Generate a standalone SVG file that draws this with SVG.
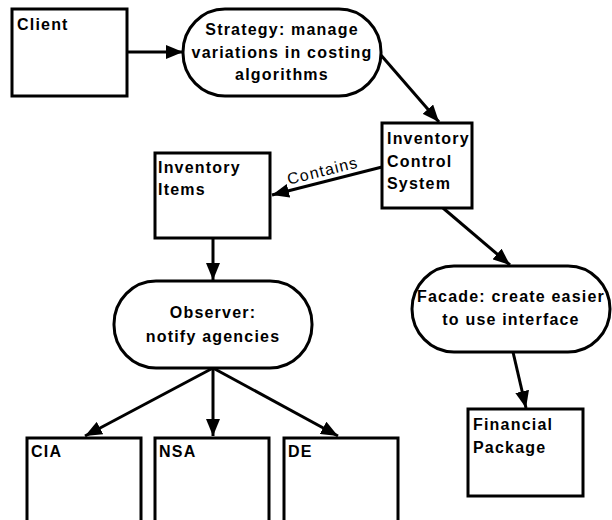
<svg xmlns="http://www.w3.org/2000/svg" width="612" height="520" viewBox="0 0 612 520">
<style>
.box{fill:#fff;stroke:#000;stroke-width:3}
.lbl{font-family:"Liberation Sans",Arial,sans-serif;font-size:16px;font-weight:bold;letter-spacing:1.2px;fill:#000}
.c{text-anchor:middle}
.edge{stroke:#000;stroke-width:3;fill:none;marker-end:url(#ah)}
.elbl{font-family:"Liberation Sans",Arial,sans-serif;font-size:16px;letter-spacing:1.2px;fill:#000}
</style>
<defs>
<marker id="ah" markerUnits="userSpaceOnUse" markerWidth="18" markerHeight="14" refX="17" refY="7" orient="auto">
<path d="M0,0 L17,7 L0,14 Z" fill="#000"/>
</marker>
</defs>
<rect width="612" height="520" fill="#fff"/>
<g id="edges">
<line class="edge" x1="127" y1="52" x2="183" y2="52"/>
<line class="edge" x1="380" y1="54" x2="439" y2="122"/>
<line class="edge" x1="382" y1="167" x2="272" y2="195"/>
<line class="edge" x1="213" y1="238" x2="213" y2="280"/>
<line class="edge" x1="213" y1="368" x2="85" y2="436"/>
<line class="edge" x1="213" y1="368" x2="213" y2="436"/>
<line class="edge" x1="213" y1="368" x2="338" y2="436"/>
<line class="edge" x1="443" y1="208" x2="510" y2="265"/>
<line class="edge" x1="513" y1="352" x2="526" y2="408"/>
<text class="elbl" transform="translate(324 176) rotate(-14)" text-anchor="middle">Contains</text>
</g>
<g id="client">
<rect class="box" x="12" y="9" width="115" height="87"/>
<text class="lbl" x="17" y="30">Client</text>
</g>
<g id="strategy">
<rect class="box" x="183" y="9" width="198" height="87" rx="42" ry="43"/>
<text class="lbl c" x="282" y="35">Strategy: manage</text>
<text class="lbl c" x="282" y="58">variations in costing</text>
<text class="lbl c" x="282" y="80">algorithms</text>
</g>
<g id="ics">
<rect class="box" x="382" y="123" width="90" height="85"/>
<text class="lbl" x="387" y="144">Inventory</text>
<text class="lbl" x="387" y="167">Control</text>
<text class="lbl" x="387" y="189">System</text>
</g>
<g id="items">
<rect class="box" x="155" y="153" width="115" height="85"/>
<text class="lbl" x="158" y="173">Inventory</text>
<text class="lbl" x="158" y="195">Items</text>
</g>
<g id="observer">
<rect class="box" x="114" y="281" width="198" height="87" rx="42" ry="43"/>
<text class="lbl c" x="213" y="318">Observer:</text>
<text class="lbl c" x="213" y="342">notify agencies</text>
</g>
<g id="cia">
<rect class="box" x="27" y="438" width="114" height="90"/>
<text class="lbl" x="31" y="457">CIA</text>
</g>
<g id="nsa">
<rect class="box" x="155" y="438" width="114" height="90"/>
<text class="lbl" x="159" y="457">NSA</text>
</g>
<g id="de">
<rect class="box" x="284" y="438" width="114" height="90"/>
<text class="lbl" x="288" y="457">DE</text>
</g>
<g id="facade">
<rect class="box" x="412" y="266" width="198" height="86" rx="42" ry="43"/>
<text class="lbl c" x="511" y="302">Facade: create easier</text>
<text class="lbl c" x="511" y="325">to use interface</text>
</g>
<g id="financial">
<rect class="box" x="468" y="409" width="115" height="87"/>
<text class="lbl" x="473" y="430">Financial</text>
<text class="lbl" x="473" y="453">Package</text>
</g>
</svg>
